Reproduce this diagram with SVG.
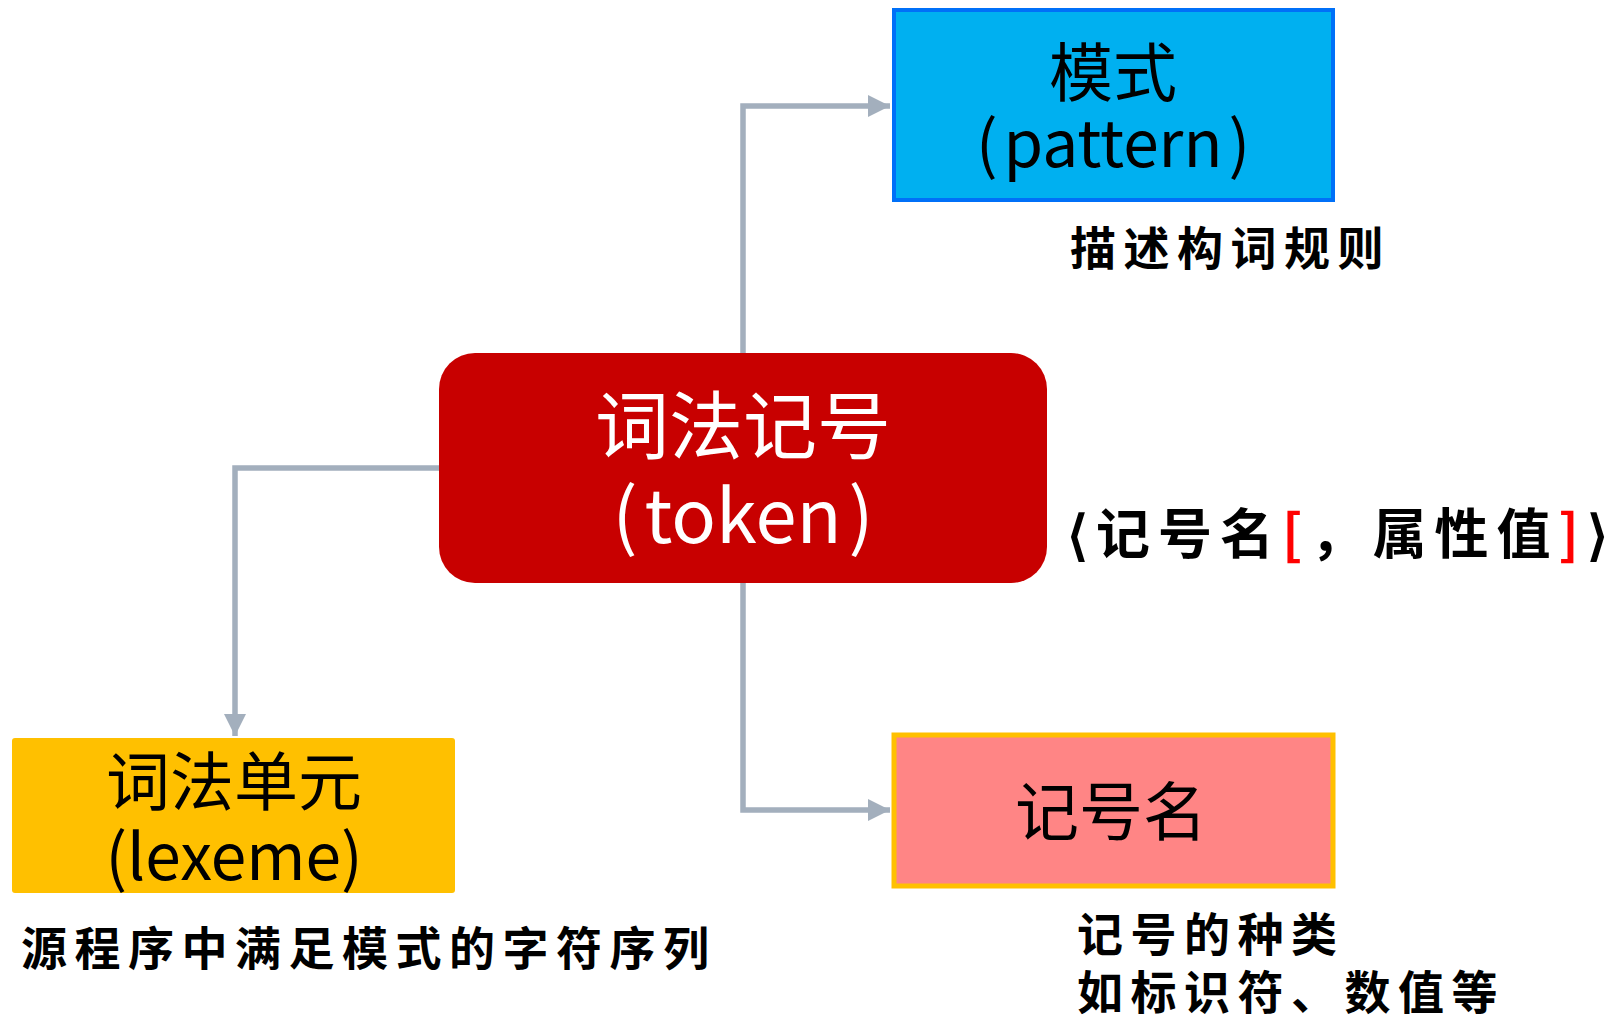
<svg xmlns="http://www.w3.org/2000/svg" width="1614" height="1020" viewBox="0 0 1614 1020">
<style>
.sans{font-family:"Noto Sans CJK SC","Noto Sans",sans-serif;}
.note{font-family:"Noto Sans CJK SC",sans-serif;font-weight:700;font-size:46px;letter-spacing:7.5px;fill:#000;}
.big{font-size:54px;letter-spacing:8px;}
.conn{fill:none;stroke:#A3AFBD;stroke-width:5.5;}
</style>
<defs>
<marker id="ah" markerUnits="userSpaceOnUse" markerWidth="24" markerHeight="24" refX="22" refY="12" orient="auto">
<path d="M0,1 L22,12 L0,23 Z" fill="#A3AFBD"/>
</marker>
</defs>
<rect width="1614" height="1020" fill="#fff"/>
<g id="connectors">
<path class="conn" d="M743,353 V106 H890" marker-end="url(#ah)"/>
<path class="conn" d="M439,468 H235 V736" marker-end="url(#ah)"/>
<path class="conn" d="M743,583 V810 H890" marker-end="url(#ah)"/>
</g>
<g id="token">
<rect x="439" y="353" width="608" height="230" rx="36" fill="#C80000"/>
<text class="sans" font-size="74" fill="#fff" text-anchor="middle"><tspan x="743" y="453">词法记号</tspan><tspan x="743" y="543">(<tspan dx="7">token</tspan><tspan dx="7">)</tspan></tspan></text>
</g>
<g id="pattern">
<rect x="894" y="10" width="439" height="190" fill="#00B0F0" stroke="#0070F8" stroke-width="4"/>
<text class="sans" font-size="64" fill="#000" text-anchor="middle"><tspan x="1113" y="96">模式</tspan><tspan x="1113" y="167">(<tspan dx="6">pattern</tspan><tspan dx="6">)</tspan></tspan></text>
</g>
<g id="lexeme">
<rect x="12" y="738" width="443" height="155" rx="3" fill="#FFC000"/>
<text class="sans" font-size="64" fill="#000" text-anchor="middle"><tspan x="234" y="805">词法单元</tspan><tspan x="234" y="880">(lexeme)</tspan></text>
</g>
<g id="tokenname">
<rect x="894" y="735" width="439" height="151" fill="#FF8585" stroke="#FFC000" stroke-width="5"/>
<text class="sans" x="1111" y="835" font-size="64" fill="#000" text-anchor="middle">记号名</text>
</g>
<g id="labels">
<text class="note big" x="1067" y="554">⟨记号名<tspan fill="#FF0000">[</tspan>，属性值<tspan fill="#FF0000">]</tspan>⟩</text>
<text class="note" x="1070" y="265">描述构词规则</text>
<text class="note" x="21" y="965">源程序中满足模式的字符序列</text>
<text class="note" x="1077" y="951">记号的种类</text>
<text class="note" x="1077" y="1009">如标识符、数值等</text>
</g>
</svg>
